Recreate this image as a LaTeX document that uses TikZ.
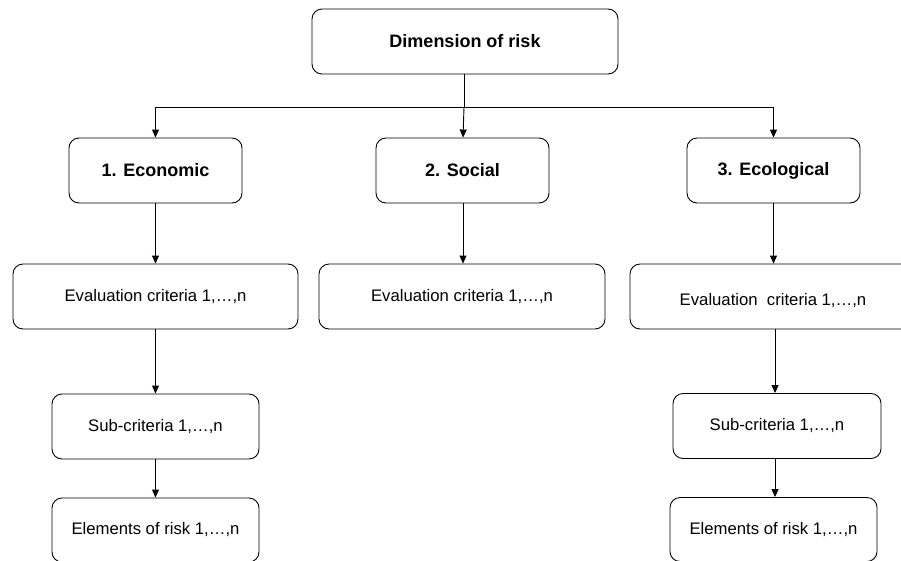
\documentclass[tikz,border=0pt]{standalone}
\usepackage{fontspec}
\setmainfont{Liberation Sans}
\usetikzlibrary{arrows.meta}
\begin{document}
\begin{tikzpicture}[x=1pt,y=-1pt,
  box/.style={draw=black, line width=0.9pt, rounded corners=10pt, inner sep=0pt, align=center},
  headbox/.style={box, font=\fontsize{18}{21}\selectfont\bfseries, minimum height=65pt},
  textbox/.style={box, font=\fontsize{16.7}{20}\selectfont, minimum height=65pt},
  arr/.style={draw=black, line width=0.9pt, -{Triangle[length=8pt,width=7pt]}},
  ln/.style={draw=black, line width=0.9pt}]
\useasboundingbox (0,0) rectangle (901,560);
\clip (0,0) rectangle (901,560);
\fill[white] (0,0) rectangle (901,560);
\node[headbox, minimum width=306pt] (top) at (465,41.5) {Dimension of risk};
\node[headbox, minimum width=173pt] (econ) at (155.5,170.5) {1. Economic};
\node[headbox, minimum width=173pt] (soc) at (462.5,170.5) {2. Social};
\node[headbox, minimum width=173pt] (eco) at (773.5,170.5) {3. Ecological};
\node[textbox, minimum width=285pt] (ev1) at (155.5,296.5) {Evaluation criteria 1,…,n};
\node[textbox, minimum width=286pt] (ev2) at (462,296.5) {Evaluation criteria 1,…,n};
\node[textbox, minimum width=286pt, text height=22pt, text depth=3.5pt] (ev3) at (773,296.5) {Evaluation\ \ criteria 1,…,n};
\node[textbox, minimum width=207pt] (sub1) at (155.5,426.5) {Sub-criteria 1,…,n};
\node[textbox, minimum width=208pt] (sub3) at (777,426) {Sub-criteria 1,…,n};
\node[textbox, minimum width=207pt, minimum height=64pt] (el1) at (155.5,530) {Elements of risk 1,…,n};
\node[textbox, minimum width=207pt, minimum height=64pt] (el3) at (773.5,529.5) {Elements of risk 1,…,n};
\coordinate (bus) at (464,107);
\draw[ln] ([xshift=-1pt]top.south) -- (bus);
\draw[arr] (bus) -| (econ.north);
\draw[arr] (bus) -- ([xshift=0.5pt]soc.north);
\draw[arr] (bus) -| (eco.north);
\draw[arr] (econ) -- (ev1);
\draw[arr] ([xshift=0.5pt]soc.south) -- ([xshift=1pt]ev2.north);
\draw[arr] (eco.south) -- ([xshift=0.5pt]ev3.north);
\draw[arr] (econ.south |- ev1.south) -- (sub1.north);
\draw[arr] (sub1) -- (el1);
\draw[arr] ([xshift=2pt]ev3.south) -- ([xshift=-2pt]sub3.north);
\draw[arr] ([xshift=-2pt]sub3.south) -- ([xshift=1.5pt]el3.north);
\end{tikzpicture}
\end{document}
